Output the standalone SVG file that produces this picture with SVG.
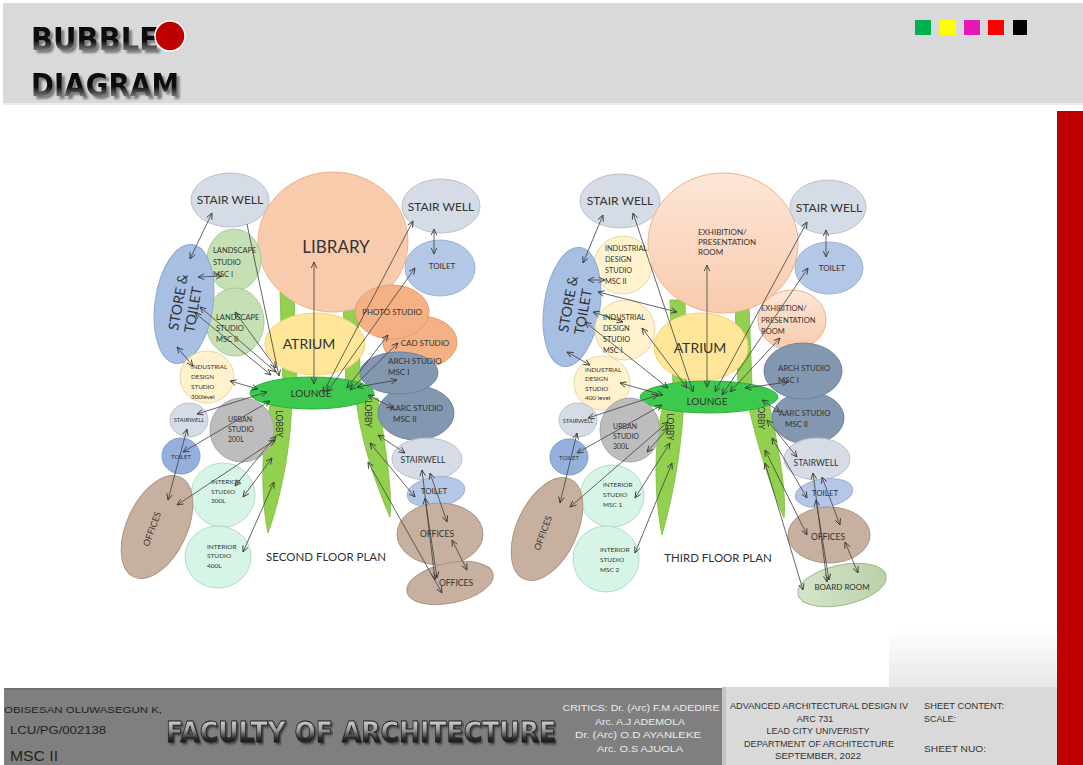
<svg xmlns="http://www.w3.org/2000/svg" width="1083" height="765" viewBox="0 0 1083 765">
<defs>
<marker id="ah" viewBox="0 0 8 8" refX="7.5" refY="4" markerWidth="7" markerHeight="7" markerUnits="userSpaceOnUse" orient="auto-start-reverse">
<path d="M0.5,0.8 L7.5,4 L0.5,7.2" fill="none" stroke="#3a3a3a" stroke-width="1"/>
</marker>
<filter id="sh" x="-3%" y="-15%" width="110%" height="135%">
<feDropShadow dx="3" dy="3" stdDeviation="1" flood-color="#6f6f6f" flood-opacity="0.9"/>
</filter>
<filter id="sh2" x="-1%" y="-10%" width="103%" height="130%">
<feDropShadow dx="2" dy="2" stdDeviation="0.8" flood-color="#2a2a2a" flood-opacity="0.7"/>
</filter>
<linearGradient id="gTitle" x1="0" y1="0" x2="0" y2="1">
<stop offset="0" stop-color="#000"/><stop offset="0.55" stop-color="#111"/><stop offset="0.8" stop-color="#777"/><stop offset="1" stop-color="#222"/>
</linearGradient>
<linearGradient id="gFac" x1="0" y1="0" x2="0" y2="1">
<stop offset="0" stop-color="#f2f2f2"/><stop offset="0.45" stop-color="#9a9a9a"/><stop offset="0.7" stop-color="#2a2a2a"/><stop offset="1" stop-color="#000"/>
</linearGradient>
<linearGradient id="gExh" x1="0" y1="0" x2="0" y2="1">
<stop offset="0" stop-color="#fde6d8"/><stop offset="1" stop-color="#f8cbad"/>
</linearGradient>
<linearGradient id="gShade" x1="0" y1="0" x2="0" y2="1">
<stop offset="0" stop-color="#ffffff"/><stop offset="1" stop-color="#e6e6e6"/>
</linearGradient>
<linearGradient id="gBoard" x1="0" y1="0" x2="1" y2="0">
<stop offset="0" stop-color="#d6e5cb"/><stop offset="1" stop-color="#b9d1a8"/>
</linearGradient>
<style>
.lbl{font-family:Lato,"Liberation Sans",sans-serif;fill:#333;}
.ft{font-family:"Liberation Sans",Arial,sans-serif;}
.c{stroke:#3f3f3f;stroke-width:0.8;fill:none;marker-start:url(#ah);marker-end:url(#ah);}
.ce{stroke:#3f3f3f;stroke-width:0.8;fill:none;marker-end:url(#ah);}
.sw{fill:#d6dce5;stroke:#b9c1cd;stroke-width:1;}
.lib{fill:#f8cbad;stroke:#eab28f;stroke-width:1;}
.exh{fill:url(#gExh);stroke:#eab28f;stroke-width:1;}
.to{fill:#b4c7e7;stroke:#9cb2d6;stroke-width:1;}
.to2{fill:#95b0dd;stroke:#7f9bcb;stroke-width:1;}
.st{fill:#a6bfe3;stroke:#8ea8cf;stroke-width:1;}
.ls{fill:#c5e0b4;stroke:#a9cb95;stroke-width:1;}
.ph{fill:#f4b183;stroke:#e39d6c;stroke-width:1;}
.at{fill:#ffe699;stroke:#f1d476;stroke-width:1;}
.ar{fill:#8497b0;stroke:#6f829d;stroke-width:1;}
.ind{fill:#fff2cc;stroke:#e6d7a7;stroke-width:1;}
.ub{fill:#bdbdbd;stroke:#a6a6a6;stroke-width:1;}
.in{fill:#d7f5e6;stroke:#b3dcc6;stroke-width:1;}
.of{fill:#c7b09f;stroke:#a99482;stroke-width:1;}
.lo{fill:#3cc94e;stroke:#2fb040;stroke-width:1;}
.gr{fill:#92d050;stroke:#7dbb3f;stroke-width:0.8;}
.br{fill:url(#gBoard);stroke:#9fba8b;stroke-width:1;}
.ttl{font-family:'DejaVu Sans',sans-serif;font-weight:bold;font-size:32px;fill:url(#gTitle);filter:url(#sh);}
</style>
</defs>

<!-- background -->
<rect x="0" y="0" width="1083" height="765" fill="#ffffff"/>

<!-- header -->
<g id="header">
<rect x="3" y="3" width="1080" height="100" fill="#d9d9d9"/>
<rect x="3" y="103" width="1080" height="2" fill="#ececec"/>
<text class="ttl" x="31" y="50" textLength="128" lengthAdjust="spacingAndGlyphs">BUBBLE</text>
<circle cx="170" cy="36" r="15" fill="#c00000" stroke="#ffffff" stroke-width="1.5"/>
<text class="ttl" x="31" y="96" textLength="148" lengthAdjust="spacingAndGlyphs">DIAGRAM</text>
<rect x="915" y="20" width="16" height="15" fill="#00b050"/>
<rect x="940" y="20" width="16" height="15" fill="#ffff00"/>
<rect x="964" y="20" width="16" height="15" fill="#e619b8"/>
<rect x="988" y="20" width="16" height="15" fill="#ff0000"/>
<rect x="1013" y="20" width="14" height="15" fill="#000000"/>
</g>

<!-- side bar and shading -->
<rect x="889" y="630" width="168" height="60" fill="url(#gShade)"/>
<rect x="1057" y="111" width="26" height="654" fill="#c00000"/>

<!-- ================= SECOND FLOOR ================= -->
<g id="second-floor">
<g id="sf-stems">
<path class="gr" d="M280,292 L294,292 L297,386 L283,386 Z"/>
<path class="gr" d="M343,302 L357,302 L361,386 L346,386 Z"/>
</g>
<g id="sf-lobby-left">
<path class="gr" d="M272,398 L292,398 C291,450 280,500 268,533 C261,500 260,440 272,398 Z"/>
<text class="lbl" font-size="8.5" text-anchor="middle" transform="translate(276,424) rotate(90)">LOBBY</text>
</g>
<g id="sf-lobby-right">
<path class="gr" d="M356,398 L378,398 C384,440 393,490 390,517 C378,490 360,440 356,398 Z"/>
<text class="lbl" font-size="8.5" text-anchor="middle" transform="translate(365,414) rotate(90)">LOBBY</text>
</g>
<g id="sf-stairwell-tl"><ellipse class="sw" cx="230" cy="200" rx="39" ry="27"/><text class="lbl" x="230" y="204" font-size="12" text-anchor="middle">STAIR WELL</text></g>
<g id="sf-library"><ellipse class="lib" cx="333" cy="242" rx="75" ry="70"/><text class="lbl" x="336" y="253" font-size="17" text-anchor="middle">LIBRARY</text></g>
<g id="sf-stairwell-tr"><ellipse class="sw" cx="441" cy="206" rx="39" ry="27"/><text class="lbl" x="441" y="211" font-size="12" text-anchor="middle">STAIR WELL</text></g>
<g id="sf-toilet-r"><ellipse class="to" cx="440" cy="268" rx="35" ry="28"/><text class="lbl" x="442" y="269" font-size="8" text-anchor="middle">TOILET</text></g>
<g id="sf-landscape-1"><ellipse class="ls" cx="234" cy="260" rx="27" ry="31"/>
<text class="lbl" font-size="7.5"><tspan x="213" y="253">LANDSCAPE</tspan><tspan x="213" y="265">STUDIO</tspan><tspan x="213" y="277">MSC I</tspan></text></g>
<g id="sf-landscape-2"><ellipse class="ls" cx="235" cy="322" rx="29" ry="34"/>
<text class="lbl" font-size="7.5"><tspan x="216" y="320">LANDSCAPE</tspan><tspan x="216" y="331">STUDIO</tspan><tspan x="216" y="342">MSC II</tspan></text></g>
<g id="sf-store-toilet"><ellipse class="st" cx="184" cy="304" rx="29" ry="60" transform="rotate(8 184 304)"/>
<text class="lbl" font-size="14" text-anchor="middle" transform="translate(183,303) rotate(-80)"><tspan x="0" y="0">STORE &amp;</tspan><tspan x="-5" y="16">TOILET</tspan></text></g>
<g id="sf-cad"><ellipse class="ph" cx="420" cy="342" rx="37" ry="26"/><text class="lbl" x="425" y="346" font-size="8" text-anchor="middle">CAD STUDIO</text></g>
<g id="sf-photo"><ellipse class="ph" cx="392" cy="312" rx="37" ry="27"/><text class="lbl" x="392" y="315" font-size="8" text-anchor="middle">PHOTO STUDIO</text></g>
<g id="sf-atrium"><ellipse class="at" cx="315" cy="344" rx="50" ry="31"/><text class="lbl" x="309" y="349" font-size="14" text-anchor="middle">ATRIUM</text></g>
<g id="sf-aarc"><ellipse class="ar" cx="416" cy="413" rx="38" ry="27"/>
<text class="lbl" font-size="8"><tspan x="390" y="411">AARC STUDIO</tspan><tspan x="393" y="422">MSC II</tspan></text></g>
<g id="sf-arch"><ellipse class="ar" cx="399" cy="373" rx="39" ry="21"/>
<text class="lbl" font-size="8"><tspan x="388" y="364">ARCH STUDIO</tspan><tspan x="388" y="375">MSC I</tspan></text></g>
<g id="sf-industrial"><ellipse class="ind" cx="207" cy="377" rx="27" ry="26"/>
<text class="lbl" font-size="6.3"><tspan x="191" y="369">INDUSTRIAL</tspan><tspan x="191" y="379">DESIGN</tspan><tspan x="191" y="389">STUDIO</tspan><tspan x="191" y="399">300level</tspan></text></g>
<g id="sf-lounge"><ellipse class="lo" cx="312" cy="393" rx="62" ry="16"/><text class="lbl" x="311" y="397" font-size="10" text-anchor="middle">LOUNGE</text></g>
<g id="sf-stairwell-s"><ellipse class="sw" cx="189" cy="420" rx="19" ry="17"/><text class="lbl" x="189" y="422" font-size="5.8" text-anchor="middle">STAIRWELL</text></g>
<g id="sf-toilet-s"><ellipse class="to2" cx="181" cy="456" rx="19" ry="18"/><text class="lbl" x="181" y="459" font-size="6" text-anchor="middle">TOILET</text></g>
<g id="sf-urban"><ellipse class="ub" cx="242" cy="430" rx="32" ry="32"/>
<text class="lbl" font-size="7"><tspan x="228" y="422">URBAN</tspan><tspan x="228" y="432">STUDIO</tspan><tspan x="228" y="442">200L</tspan></text></g>
<g id="sf-interior-300"><ellipse class="in" cx="223" cy="495" rx="32" ry="32"/>
<text class="lbl" font-size="6.5"><tspan x="211" y="484">INTERIOR</tspan><tspan x="211" y="494">STUDIO</tspan><tspan x="211" y="503">300L</tspan></text></g>
<g id="sf-interior-400"><ellipse class="in" cx="218" cy="557" rx="33" ry="31"/>
<text class="lbl" font-size="6.5"><tspan x="207" y="549">INTERIOR</tspan><tspan x="207" y="558">STUDIO</tspan><tspan x="207" y="568">400L</tspan></text></g>
<g id="sf-offices-l"><ellipse class="of" cx="157" cy="527" rx="55" ry="30" transform="rotate(-65 157 527)"/>
<text class="lbl" font-size="9" text-anchor="middle" transform="translate(155,530) rotate(-70)">OFFICES</text></g>
<g id="sf-stairwell-r"><ellipse class="sw" cx="427" cy="459" rx="35" ry="21"/><text class="lbl" x="423" y="463" font-size="8.5" text-anchor="middle">STAIRWELL</text></g>
<g id="sf-toilet-r2"><ellipse class="to" cx="436" cy="492" rx="29" ry="15" transform="rotate(-8 436 492)"/><text class="lbl" x="434" y="494" font-size="8" text-anchor="middle">TOILET</text></g>
<g id="sf-offices-r"><ellipse class="of" cx="440" cy="534" rx="43" ry="31"/><text class="lbl" x="437" y="537" font-size="8.5" text-anchor="middle">OFFICES</text></g>
<g id="sf-offices-r2"><ellipse class="of" cx="450" cy="583" rx="44" ry="20" transform="rotate(-12 450 583)"/><text class="lbl" x="456" y="586" font-size="8.5" text-anchor="middle">OFFICES</text></g>
<g id="sf-title"><text class="lbl" x="326" y="561" font-size="11.5" text-anchor="middle">SECOND FLOOR PLAN</text></g>
</g>

<!-- ================= THIRD FLOOR ================= -->
<g id="third-floor">
<g id="tf-stems">
<path class="gr" d="M670,300 L685,300 L687,386 L673,386 Z"/>
<path class="gr" d="M735,305 L749,305 L752,386 L738,386 Z"/>
</g>
<g id="tf-lobby-left">
<path class="gr" d="M665,398 L684,398 C682,450 672,500 662,535 C654,495 653,440 665,398 Z"/>
<text class="lbl" font-size="8.5" text-anchor="middle" transform="translate(667,427) rotate(90)">LOBBY</text>
</g>
<g id="tf-lobby-right">
<path class="gr" d="M747,398 L768,398 C777,440 787,490 784,518 C772,490 755,440 747,398 Z"/>
<text class="lbl" font-size="8.5" text-anchor="middle" transform="translate(758,416) rotate(90)">LOBBY</text>
</g>
<g id="tf-stairwell-tl"><ellipse class="sw" cx="620" cy="201" rx="40" ry="27"/><text class="lbl" x="620" y="205" font-size="12" text-anchor="middle">STAIR WELL</text></g>
<g id="tf-exhibition"><ellipse class="exh" cx="723" cy="243" rx="75" ry="70"/>
<text class="lbl" font-size="8"><tspan x="698" y="235">EXHIBITION/</tspan><tspan x="698" y="245">PRESENTATION</tspan><tspan x="698" y="255">ROOM</tspan></text></g>
<g id="tf-stairwell-tr"><ellipse class="sw" cx="828" cy="207" rx="38" ry="27"/><text class="lbl" x="829" y="212" font-size="12" text-anchor="middle">STAIR WELL</text></g>
<g id="tf-toilet-r"><ellipse class="to" cx="829" cy="268" rx="34" ry="26"/><text class="lbl" x="832" y="271" font-size="8" text-anchor="middle">TOILET</text></g>
<g id="tf-industrial-2"><ellipse class="ind" cx="623" cy="265" rx="29" ry="29"/>
<text class="lbl" font-size="7.3"><tspan x="605" y="251">INDUSTRIAL</tspan><tspan x="605" y="262">DESIGN</tspan><tspan x="605" y="273">STUDIO</tspan><tspan x="605" y="284">MSC II</tspan></text></g>
<g id="tf-store-toilet"><ellipse class="st" cx="572" cy="307" rx="28" ry="60" transform="rotate(8 572 307)"/>
<text class="lbl" font-size="14" text-anchor="middle" transform="translate(573,305) rotate(-80)"><tspan x="0" y="0">STORE &amp;</tspan><tspan x="-5" y="16">TOILET</tspan></text></g>
<g id="tf-industrial-1"><ellipse class="ind" cx="625" cy="330" rx="30" ry="30"/>
<text class="lbl" font-size="7.3"><tspan x="603" y="320">INDUSTRIAL</tspan><tspan x="603" y="331">DESIGN</tspan><tspan x="603" y="342">STUDIO</tspan><tspan x="603" y="353">MSC I</tspan></text></g>
<g id="tf-exhibition-2"><ellipse class="exh" cx="792" cy="320" rx="34" ry="30"/>
<text class="lbl" font-size="7.5"><tspan x="761" y="311">EXHIBITION/</tspan><tspan x="761" y="323">PRESENTATION</tspan><tspan x="761" y="334">ROOM</tspan></text></g>
<g id="tf-atrium"><ellipse class="at" cx="701" cy="347" rx="47" ry="34"/><text class="lbl" x="700" y="353" font-size="14" text-anchor="middle">ATRIUM</text></g>
<g id="tf-aarc"><ellipse class="ar" cx="808" cy="418" rx="36" ry="26"/>
<text class="lbl" font-size="7.8"><tspan x="779" y="416">AARC STUDIO</tspan><tspan x="785" y="427">MSC II</tspan></text></g>
<g id="tf-arch"><ellipse class="ar" cx="803" cy="371" rx="39" ry="28"/>
<text class="lbl" font-size="7.8"><tspan x="778" y="371">ARCH STUDIO</tspan><tspan x="778" y="383">MSC I</tspan></text></g>
<g id="tf-industrial-400"><ellipse class="ind" cx="602" cy="383" rx="28" ry="27"/>
<text class="lbl" font-size="6.3"><tspan x="585" y="372">INDUSTRIAL</tspan><tspan x="585" y="381">DESIGN</tspan><tspan x="585" y="391">STUDIO</tspan><tspan x="585" y="400">400 level</tspan></text></g>
<g id="tf-lounge"><ellipse class="lo" cx="709" cy="397" rx="69" ry="16"/><text class="lbl" x="707" y="405" font-size="10" text-anchor="middle">LOUNGE</text></g>
<g id="tf-stairwell-s"><ellipse class="sw" cx="578" cy="420" rx="19" ry="17"/><text class="lbl" x="578" y="423" font-size="5.8" text-anchor="middle">STAIRWELL</text></g>
<g id="tf-urban"><ellipse class="ub" cx="630" cy="430" rx="30" ry="32"/>
<text class="lbl" font-size="7"><tspan x="613" y="429">URBAN</tspan><tspan x="613" y="439">STUDIO</tspan><tspan x="613" y="449">300L</tspan></text></g>
<g id="tf-toilet-s"><ellipse class="to2" cx="569" cy="457" rx="19" ry="18"/><text class="lbl" x="569" y="460" font-size="6" text-anchor="middle">TOILET</text></g>
<g id="tf-interior-1"><ellipse class="in" cx="612" cy="496" rx="32" ry="31"/>
<text class="lbl" font-size="6.5"><tspan x="603" y="487">INTERIOR</tspan><tspan x="603" y="497">STUDIO</tspan><tspan x="603" y="507">MSC 1</tspan></text></g>
<g id="tf-interior-2"><ellipse class="in" cx="606" cy="559" rx="33" ry="33"/>
<text class="lbl" font-size="6.5"><tspan x="600" y="552">INTERIOR</tspan><tspan x="600" y="562">STUDIO</tspan><tspan x="600" y="572">MSC 2</tspan></text></g>
<g id="tf-offices-l"><ellipse class="of" cx="547" cy="529" rx="55" ry="30" transform="rotate(-65 547 529)"/>
<text class="lbl" font-size="9" text-anchor="middle" transform="translate(546,534) rotate(-70)">OFFICES</text></g>
<g id="tf-stairwell-r"><ellipse class="sw" cx="817" cy="459" rx="33" ry="21"/><text class="lbl" x="816" y="466" font-size="8.5" text-anchor="middle">STAIRWELL</text></g>
<g id="tf-toilet-r2"><ellipse class="to" cx="824" cy="493" rx="29" ry="14" transform="rotate(-8 824 493)"/><text class="lbl" x="825" y="496" font-size="8" text-anchor="middle">TOILET</text></g>
<g id="tf-offices-r"><ellipse class="of" cx="829" cy="535" rx="41" ry="28"/><text class="lbl" x="828" y="540" font-size="8.5" text-anchor="middle">OFFICES</text></g>
<g id="tf-boardroom"><ellipse class="br" cx="842" cy="585" rx="45" ry="20" transform="rotate(-12 842 585)"/><text class="lbl" x="842" y="590" font-size="8" text-anchor="middle">BOARD ROOM</text></g>
<g id="tf-title"><text class="lbl" x="718" y="562" font-size="11.5" text-anchor="middle">THIRD FLOOR PLAN</text></g>
</g>

<!-- connectors -->
<g id="connectors">
<line class="c" x1="212" y1="213" x2="190" y2="259"/>
<line class="c" x1="222" y1="276" x2="198" y2="277"/>
<line class="ce" x1="247" y1="224" x2="279" y2="376"/>
<line class="c" x1="200" y1="307" x2="276" y2="372"/>
<line class="c" x1="195" y1="313" x2="271" y2="375"/>
<line class="c" x1="235" y1="312" x2="276" y2="368"/>
<line class="c" x1="177" y1="347" x2="193" y2="366"/>
<line class="c" x1="230" y1="381" x2="258" y2="389"/>
<line class="c" x1="197" y1="414" x2="267" y2="392"/>
<line class="c" x1="183" y1="452" x2="270" y2="401"/>
<line class="c" x1="187" y1="429" x2="168" y2="500"/>
<line class="c" x1="177" y1="505" x2="275" y2="440"/>
<line class="c" x1="235" y1="486" x2="276" y2="436"/>
<line class="c" x1="243" y1="497" x2="272" y2="458"/>
<line class="c" x1="243" y1="552" x2="274" y2="482"/>
<line class="c" x1="314" y1="262" x2="314" y2="384"/>
<line class="c" x1="413" y1="221" x2="323" y2="393"/>
<line class="c" x1="415" y1="268" x2="327" y2="392"/>
<line class="c" x1="434" y1="229" x2="434" y2="254"/>
<line class="c" x1="388" y1="335" x2="347" y2="388"/>
<line class="c" x1="398" y1="343" x2="350" y2="390"/>
<line class="c" x1="397" y1="380" x2="357" y2="387"/>
<line class="c" x1="393" y1="408" x2="368" y2="395"/>
<line class="c" x1="378" y1="435" x2="405" y2="453"/>
<line class="c" x1="370" y1="443" x2="415" y2="497"/>
<line class="c" x1="368" y1="462" x2="442" y2="593"/>
<line class="c" x1="422" y1="470" x2="435" y2="580"/>
<line class="c" x1="425" y1="498" x2="437" y2="578"/>
<line class="c" x1="430" y1="473" x2="447" y2="522"/>
<line class="c" x1="452" y1="540" x2="467" y2="570"/>

<line class="c" x1="603" y1="215" x2="583" y2="263"/>
<line class="c" x1="633" y1="213" x2="693" y2="392"/>
<line class="c" x1="605" y1="280" x2="588" y2="280"/>
<line class="c" x1="598" y1="292" x2="677" y2="312"/>
<line class="c" x1="593" y1="312" x2="623" y2="322"/>
<line class="c" x1="585" y1="322" x2="668" y2="388"/>
<line class="c" x1="642" y1="328" x2="687" y2="388"/>
<line class="c" x1="567" y1="352" x2="590" y2="365"/>
<line class="c" x1="620" y1="383" x2="663" y2="395"/>
<line class="c" x1="707" y1="265" x2="707" y2="387"/>
<line class="c" x1="807" y1="222" x2="715" y2="392"/>
<line class="c" x1="808" y1="268" x2="722" y2="395"/>
<line class="c" x1="780" y1="338" x2="730" y2="392"/>
<line class="c" x1="826" y1="230" x2="826" y2="257"/>
<line class="c" x1="788" y1="382" x2="745" y2="388"/>
<line class="c" x1="780" y1="412" x2="762" y2="400"/>
<line class="c" x1="588" y1="418" x2="658" y2="395"/>
<line class="c" x1="577" y1="453" x2="662" y2="405"/>
<line class="c" x1="577" y1="433" x2="560" y2="503"/>
<line class="c" x1="570" y1="507" x2="668" y2="422"/>
<line class="c" x1="647" y1="452" x2="668" y2="428"/>
<line class="c" x1="635" y1="498" x2="670" y2="443"/>
<line class="c" x1="635" y1="553" x2="672" y2="463"/>
<line class="c" x1="767" y1="420" x2="797" y2="457"/>
<line class="c" x1="772" y1="438" x2="807" y2="498"/>
<line class="c" x1="765" y1="450" x2="807" y2="535"/>
<line class="c" x1="765" y1="463" x2="803" y2="590"/>
<line class="c" x1="813" y1="473" x2="827" y2="582"/>
<line class="c" x1="816" y1="500" x2="829" y2="580"/>
<line class="c" x1="822" y1="477" x2="840" y2="525"/>
<line class="c" x1="845" y1="542" x2="858" y2="573"/>
</g>

<!-- footer -->
<g id="footer">
<rect x="4" y="689" width="720" height="76" fill="#7f7f7f"/>
<rect x="4" y="688" width="720" height="1.5" fill="#6e6e6e"/>
<rect x="722" y="687" width="335" height="78" fill="#d9d9d9"/>
<rect x="722" y="687" width="4" height="78" fill="#c4c4c4"/>
<text class="ft" x="4" y="713" font-size="9.5" fill="#222" textLength="158" lengthAdjust="spacingAndGlyphs">OBISESAN OLUWASEGUN K,</text>
<text class="ft" x="10" y="734" font-size="10" fill="#222" textLength="96" lengthAdjust="spacingAndGlyphs">LCU/PG/002138</text>
<text class="ft" x="10" y="761" font-size="15" fill="#222" textLength="48" lengthAdjust="spacingAndGlyphs">MSC II</text>
<text transform="translate(166,742) scale(0.85,1)" x="0" y="0" font-family="'DejaVu Sans',sans-serif" font-weight="bold" font-size="29" textLength="459" lengthAdjust="spacingAndGlyphs" fill="url(#gFac)" stroke="#1a1a1a" stroke-width="0.8" filter="url(#sh2)">FACULTY OF ARCHITECTURE</text>
<text class="ft" font-size="9" fill="#ececec" text-anchor="middle"><tspan x="641" y="711" textLength="157" lengthAdjust="spacingAndGlyphs">CRITICS: Dr. (Arc) F.M ADEDIRE</tspan><tspan x="640" y="724.5" textLength="90" lengthAdjust="spacingAndGlyphs">Arc. A.J ADEMOLA</tspan><tspan x="638" y="738" textLength="126" lengthAdjust="spacingAndGlyphs">Dr. (Arc) O.D AYANLEKE</tspan><tspan x="640" y="751.5" textLength="86" lengthAdjust="spacingAndGlyphs">Arc. O.S AJUOLA</tspan></text>
<g class="ft" font-size="9" fill="#333" text-anchor="middle">
<text x="819" y="709" textLength="178" lengthAdjust="spacingAndGlyphs">ADVANCED ARCHITECTURAL DESIGN IV</text>
<text x="815" y="722">ARC 731</text>
<text x="818" y="734" textLength="103" lengthAdjust="spacingAndGlyphs">LEAD CITY UNIVERISTY</text>
<text x="819" y="747" textLength="150" lengthAdjust="spacingAndGlyphs">DEPARTMENT OF ARCHITECTURE</text>
<text x="818" y="759" textLength="86" lengthAdjust="spacingAndGlyphs">SEPTEMBER, 2022</text>
</g>
<g class="ft" font-size="9" fill="#333">
<text x="924" y="709" textLength="80" lengthAdjust="spacingAndGlyphs">SHEET CONTENT:</text>
<text x="924" y="722">SCALE:</text>
<text x="924" y="752" textLength="62" lengthAdjust="spacingAndGlyphs">SHEET NUO:</text>
</g>
</g>
</svg>
